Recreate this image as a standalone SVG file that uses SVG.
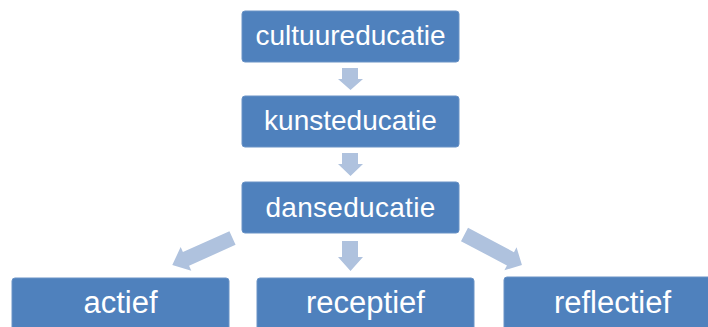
<svg xmlns="http://www.w3.org/2000/svg" width="708" height="327" viewBox="0 0 708 327">
<style>
.box{fill:#4F81BD;stroke:#6A93C6;stroke-width:1}
.t{fill:#FFFFFF;font-family:"Liberation Sans",Arial,sans-serif;text-anchor:middle}
.t1{font-size:28px}
.t2{font-size:31px}
.arr{fill:#AFC2DE}
</style>
<rect width="708" height="327" fill="#FFFFFF"/>
<g id="connectors">
<polygon class="arr" points="342,68 358,68 358,79 363,79 350.5,90 338,79 342,79"/>
<polygon class="arr" points="342,153 358,153 358,164 363,164 350.5,176 338,164 342,164"/>
<polygon class="arr" points="342,241 358,241 358,257 363,257 350.5,271 338,257 342,257"/>
<polygon class="arr" points="0,-7.5 51,-7.5 51,-13 66,0 51,13 51,7.5 0,7.5" transform="translate(232.5,238) rotate(155.8)"/>
<polygon class="arr" points="0,-7.5 52,-7.5 52,-13 65,0 52,13 52,7.5 0,7.5" transform="translate(464.5,234.5) rotate(27.9)"/>
</g>
<g id="cultuureducatie">
<rect class="box" x="242" y="11" width="217" height="51" rx="3"/>
<text class="t t1" x="350.5" y="45">cultuureducatie</text>
</g>
<g id="kunsteducatie">
<rect class="box" x="242" y="96" width="217" height="51" rx="3"/>
<text class="t t1" x="350.5" y="130">kunsteducatie</text>
</g>
<g id="danseducatie">
<rect class="box" x="242" y="182" width="217" height="51" rx="3"/>
<text class="t t1" x="350.5" y="217" letter-spacing="0.3">danseducatie</text>
</g>
<g id="actief">
<rect class="box" x="12" y="278" width="217" height="60" rx="3"/>
<text class="t t2" x="120.5" y="313">actief</text>
</g>
<g id="receptief">
<rect class="box" x="257" y="278" width="217" height="60" rx="3"/>
<text class="t t2" x="365.5" y="313">receptief</text>
</g>
<g id="reflectief">
<rect class="box" x="504" y="277" width="217" height="60" rx="3"/>
<text class="t t2" x="612.5" y="313">reflectief</text>
</g>
</svg>
